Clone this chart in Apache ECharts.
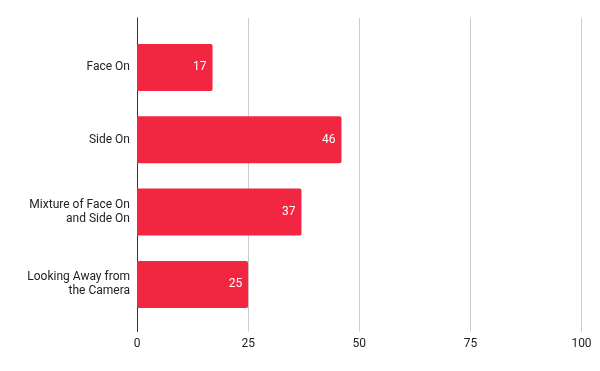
<!DOCTYPE html>
<html>
<head>
<meta charset="utf-8">
<script src="https://cdn.jsdelivr.net/npm/echarts@6/dist/echarts.min.js"></script>
<style>html,body{margin:0;padding:0;background:#fff}#c{width:600px;height:371px}</style>
</head>
<body>
<div id="c"></div>
<script>
var categories = ["Face On", "Side On", "Mixture of Face On\nand Side On", "Looking Away from\nthe Camera"];
var values = [17, 46, 37, 25];
var xTicks = [0, 25, 50, 75, 100];

var chart = echarts.init(document.getElementById('c'), null, {renderer: 'canvas'});
var font = 'Roboto, Arial, sans-serif';
chart.setOption({
  animation: false,
  backgroundColor: '#fff',
  grid: [
    {left: 137, right: 18.5, top: 18, bottom: 39.5},
    {left: 137, right: 18.5, top: 31.3, height: 289.3}
  ],
  xAxis: [
    {
      gridIndex: 0, type: 'value', min: xTicks[0], max: xTicks[xTicks.length - 1], interval: 25,
      axisLine: {show: false}, axisTick: {show: false},
      splitLine: {show: true, lineStyle: {color: '#cccccc', width: 1}},
      axisLabel: {color: '#222', fontFamily: font, fontSize: 12, margin: 6}
    },
    {
      gridIndex: 1, type: 'value', min: xTicks[0], max: xTicks[xTicks.length - 1], show: false
    }
  ],
  yAxis: [
    {
      gridIndex: 0, type: 'value', min: 0, max: 1,
      axisLine: {show: true, lineStyle: {color: '#333', width: 1}},
      axisTick: {show: false}, axisLabel: {show: false}, splitLine: {show: false}
    },
    {
      gridIndex: 1, type: 'category', data: categories, inverse: true,
      axisLine: {show: false}, axisTick: {show: false}, splitLine: {show: false},
      axisLabel: {color: '#222', fontFamily: font, fontSize: 12, margin: 7, align: 'right', lineHeight: 14}
    }
  ],
  series: [{
    type: 'bar',
    xAxisIndex: 1, yAxisIndex: 1,
    data: values,
    barWidth: 47,
    itemStyle: {color: '#f22640', borderRadius: [0, 2, 2, 0]},
    label: {show: true, position: 'insideRight', distance: 6, color: '#fff', fontFamily: font, fontSize: 12}
  }]
});
</script>
</body>
</html>
